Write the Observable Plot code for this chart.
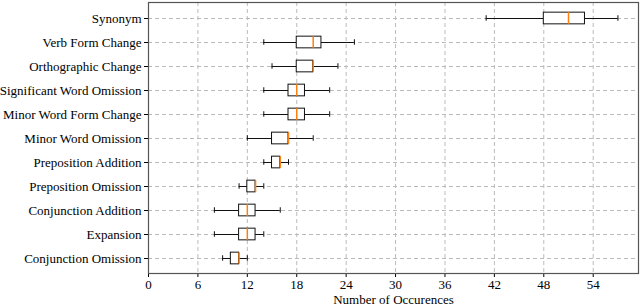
<!DOCTYPE html>
<html>
<head>
<meta charset="utf-8">
<script src="https://cdn.jsdelivr.net/npm/d3@7"></script>
<script src="https://cdn.jsdelivr.net/npm/@observablehq/plot@0.6"></script>
<style>
  html, body { margin: 0; padding: 0; background: #fff; }
  #chart svg { display: block; }
</style>
</head>
<body>
<div id="chart"></div>
<script>
const categories = ["Synonym", "Verb Form Change", "Orthographic Change", "Significant Word Omission",
  "Minor Word Form Change", "Minor Word Omission", "Preposition Addition", "Preposition Omission",
  "Conjunction Addition", "Expansion", "Conjunction Omission"];
const whiskerLow  = [41, 14, 15, 14, 14, 12, 14, 11, 8, 8, 9];
const quartile1   = [48, 18, 18, 17, 17, 15, 15, 12, 11, 11, 10];
const medians     = [51, 20, 20, 18, 18, 17, 16, 13, 12, 12, 11];
const quartile3   = [53, 21, 20, 19, 19, 17, 16, 13, 13, 13, 11];
const whiskerHigh = [57, 25, 23, 22, 22, 20, 17, 14, 16, 14, 12];
const xTicks = [0, 6, 12, 18, 24, 30, 36, 42, 48, 54];

const data = categories.map((c, i) => ({
  cat: c, lo: whiskerLow[i], q1: quartile1[i], med: medians[i], q3: quartile3[i], hi: whiskerHigh[i]
}));

const font = "'Liberation Serif', 'Times New Roman', serif";
const band = (305 - 2 - 32) / categories.length;
const boxInset = band * 0.25;
const capInset = band * 0.375;

const chart = Plot.plot({
  width: 640,
  height: 305,
  marginLeft: 148,
  marginRight: 2,
  marginTop: 2,
  marginBottom: 32,
  style: { fontSize: "13px", color: "#000", background: "#fff" },
  x: { domain: [0, 59.5], ticks: xTicks, label: "Number of Occurences", labelAnchor: "center", labelArrow: "none" },
  y: { domain: categories, padding: 0, label: null },
  marks: [
    Plot.gridX(xTicks, { stroke: "#bbb", strokeOpacity: 1, strokeDasharray: "4,3" }),
    Plot.gridY(categories, { stroke: "#bbb", strokeOpacity: 1, strokeDasharray: "4,3" }),
    Plot.ruleY(data, { y: "cat", x1: "lo", x2: "q1", stroke: "#111", strokeWidth: 1 }),
    Plot.ruleY(data, { y: "cat", x1: "q3", x2: "hi", stroke: "#111", strokeWidth: 1 }),
    Plot.tickX(data, { y: "cat", x: "lo", stroke: "#111", insetTop: capInset, insetBottom: capInset }),
    Plot.tickX(data, { y: "cat", x: "hi", stroke: "#111", insetTop: capInset, insetBottom: capInset }),
    Plot.barX(data, { y: "cat", x1: "q1", x2: "q3", fill: "white", stroke: "#111", strokeWidth: 1, insetTop: boxInset, insetBottom: boxInset }),
    Plot.tickX(data, { y: "cat", x: "med", stroke: "#ff7f0e", strokeWidth: 1.5, insetTop: boxInset, insetBottom: boxInset }),
    Plot.axisX({ ticks: xTicks, tickSize: 4, tickPadding: 2, fontSize: 13, label: "Number of Occurences", labelAnchor: "center", labelArrow: "none", labelOffset: 30 }),
    Plot.axisY({ tickSize: 4, tickPadding: 3, fontSize: 13, label: null }),
    Plot.frame({ stroke: "#555", strokeWidth: 1.2 })
  ]
});
d3.select(chart).style("font-family", font);
d3.select(chart).selectAll("g").attr("font-family", null);
d3.select(chart).selectAll("text").style("font-family", font);
document.getElementById("chart").appendChild(chart);
</script>
</body>
</html>
